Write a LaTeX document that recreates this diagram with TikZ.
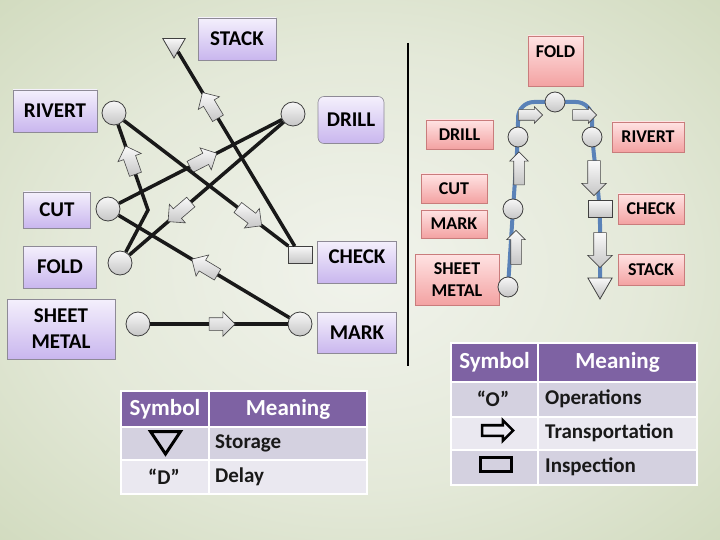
\documentclass[tikz,border=0pt]{standalone}
\usepackage{fontspec}
\setmainfont{Carlito}
\usetikzlibrary{shapes.geometric,shapes.arrows,shadows}
\definecolor{bgA}{HTML}{F1F3EC}
\definecolor{bgB}{HTML}{E4E9D9}
\definecolor{bgC}{HTML}{C7D3B0}
\definecolor{bgD}{HTML}{9DB47D}
\definecolor{purTop}{HTML}{F4F0FC}
\definecolor{purBot}{HTML}{C9B6EE}
\definecolor{purBorder}{HTML}{8E8A96}
\definecolor{pinkTop}{HTML}{FFE3E3}
\definecolor{pinkBot}{HTML}{F3A2A2}
\definecolor{pinkBorder}{HTML}{C97C7C}
\definecolor{hdrCol}{HTML}{7E62A3}
\definecolor{rowDark}{HTML}{D4D1E0}
\definecolor{rowLight}{HTML}{EAE8F0}
\definecolor{blueLine}{HTML}{5A82B8}
\pgfdeclareradialshading{bgshade}{\pgfpoint{0bp}{0bp}}{color(0bp)=(bgA); color(20bp)=(bgB); color(45bp)=(bgC); color(71bp)=(bgD)}
\pgfdeclarelayer{bglayer}
\pgfdeclarelayer{connlayer}
\pgfsetlayers{bglayer,connlayer,main}
\begin{document}
\begin{tikzpicture}[x=1pt,y=-1pt,
  lbl/.style={draw=purBorder, line width=0.6pt, top color=purTop, bottom color=purBot,
    font=\bfseries\fontsize{21}{26}\selectfont, align=center, inner sep=0pt},
  plbl/.style={draw=pinkBorder, line width=0.6pt, top color=pinkTop, bottom color=pinkBot,
    font=\bfseries\fontsize{18}{22}\selectfont, align=center, inner sep=0pt,
    drop shadow={shadow xshift=0.6pt, shadow yshift=-1.2pt, fill=black!55, opacity=0.8}},
  opc/.style={circle, draw=black!75, line width=0.8pt, top color=gray!6, bottom color=gray!45,
    minimum size=24pt, inner sep=0pt},
  ropc/.style={opc, minimum size=20pt},
  insp/.style={rectangle, draw=black!75, line width=0.8pt, top color=gray!6, bottom color=gray!45,
    minimum width=24pt, minimum height=17pt, inner sep=0pt},
  stor/.style={regular polygon, regular polygon sides=3, shape border rotate=180, draw=black!75,
    line width=0.8pt, top color=gray!5, bottom color=gray!50, minimum size=26pt, inner sep=0pt},
  barrow/.style={single arrow, draw=gray!55!black, line width=0.6pt, top color=gray!4, bottom color=gray!45,
    inner sep=0pt, inner ysep=6pt, minimum height=30pt, minimum width=24pt,
    single arrow head extend=6pt, single arrow tip angle=90, single arrow head indent=0pt},
  onl/.style={barrow, sloped, allow upside down},
  link/.style={line width=3.5pt, black!90},
  cell/.style={draw=white, line width=2pt, anchor=north west, inner sep=0pt},
  hdr/.style={cell, fill=hdrCol, text=white, font=\bfseries\fontsize{23}{26}\selectfont},
  body/.style={font=\bfseries\fontsize{21}{24}\selectfont, text=black!90, inner sep=0pt}
]
\begin{pgfonlayer}{bglayer}
  \path[shading=bgshade] (0,0) rectangle (720,540);
\end{pgfonlayer}
\useasboundingbox (0,0) rectangle (720,540);

% ---------- left diagram ----------
\node[lbl, minimum width=78pt, minimum height=42pt] (lStack) at (237,39) {STACK};
\node[lbl, minimum width=84pt, minimum height=42pt] (lRiv) at (55,111) {RIVERT};
\node[lbl, rounded corners=6pt, minimum width=66pt, minimum height=47pt] (lDrill) at (351,120) {DRILL};
\node[lbl, minimum width=67pt, minimum height=36pt] (lCut) at (57,210) {CUT};
\node[lbl, minimum width=73pt, minimum height=42pt] (lFold) at (60,267) {FOLD};
\node[lbl, minimum width=108pt, minimum height=60pt] (lSm) at (61,329) {SHEET\\METAL};
\node[lbl, minimum width=79pt, minimum height=42pt, text depth=10pt] (lCheck) at (357,262) {CHECK};
\node[lbl, minimum width=79pt, minimum height=41pt] (lMark) at (357,333) {MARK};

\node[stor] (lStackT) at (174,45) {};
\node[opc] (lRivC) at (114,113) {};
\node[opc] (lDrillC) at (293,114) {};
\node[opc] (lCutC) at (108,209) {};
\node[opc] (lFoldC) at (120,263) {};
\node[opc] (lSmC) at (138,324) {};
\node[opc] (lMarkC) at (300,324) {};
\node[insp] (lCheckS) at (300,255) {};
\coordinate (kink) at (148,210);

\draw[link] (lSmC) -- node[onl, pos=0.5, minimum height=26pt] (la1) {} (lMarkC);
\draw[link] (lMarkC) -- node[onl, pos=0.48] (la2) {} (lCutC);
\draw[link] (lCutC) -- node[onl, pos=0.5] (la3) {} (lDrillC);
\draw[link] (lDrillC) -- node[onl, pos=0.66] (la4) {} (lFoldC);
\draw[link] (lFoldC) -- (kink) -- node[onl, pos=0.55] (la5) {} (lRivC);
\draw[link] (lRivC) -- node[onl, pos=0.75] (la6) {} (lCheckS);
\draw[link] (lCheckS) -- node[onl, pos=0.71] (la7) {} (lStackT);

% ---------- divider ----------
\coordinate (divTop) at (408,43);
\coordinate (divBot) at (408,366);
\draw[line width=2.8pt, black] (divTop) -- (divBot);

% ---------- right diagram ----------
\node[plbl, minimum width=55pt, minimum height=50pt,
  label={[font=\bfseries\fontsize{18}{22}\selectfont, anchor=north, label distance=-6pt]north:FOLD}] (rFold) at (555.5,61) {};
\node[plbl, minimum width=67pt, minimum height=29pt] (rDrill) at (459.5,134.5) {DRILL};
\node[plbl, minimum width=66pt, minimum height=29pt] (rCut) at (454,188.5) {CUT};
\node[plbl, minimum width=66pt, minimum height=28pt] (rMark) at (454,224) {MARK};
\node[plbl, minimum width=84pt, minimum height=51pt] (rSm) at (457,279.5) {SHEET\\METAL};
\node[plbl, minimum width=72pt, minimum height=30pt] (rRiv) at (648,137) {RIVERT};
\node[plbl, minimum width=66pt, minimum height=30pt] (rCheck) at (651,209) {CHECK};
\node[plbl, minimum width=66pt, minimum height=31pt] (rStack) at (651,269.5) {STACK};

\node[ropc] (rSmC) at (508,287) {};
\node[ropc] (rCutC) at (513,209) {};
\node[ropc] (rDrillC) at (518,137) {};
\node[ropc] (rFoldC) at (555,102) {};
\node[ropc] (rRivC) at (592,137) {};
\node[insp] (rCheckS) at (600,209) {};
\node[stor, minimum size=28pt] (rStackT) at (600,285) {};
\coordinate (bendL) at (518,102);
\coordinate (bendR) at (592,102);

\begin{pgfonlayer}{connlayer}
\draw[line width=4pt, blueLine, rounded corners=16pt]
  (rSmC.center) -- (rCutC.center) -- (rDrillC.center) -- (bendL) -- (rFoldC.center)
  -- (bendR) -- (rRivC.center) -- (rCheckS.center) -- (rStackT.center);
\end{pgfonlayer}

\node[barrow, rotate=90, minimum height=34pt, inner ysep=5pt, single arrow head extend=4pt, minimum width=18pt] (ru1) at (516,250) {};
\node[barrow, rotate=90, minimum height=33pt, inner ysep=5pt, single arrow head extend=4pt, minimum width=18pt] (ru2) at (519,171) {};
\node[barrow, minimum height=24pt, inner ysep=5pt, single arrow head extend=3pt, minimum width=16pt] (rr1) at (528,115) {};
\node[barrow, minimum height=24pt, inner ysep=5pt, single arrow head extend=3pt, minimum width=16pt] (rr2) at (582,115) {};
\node[barrow, rotate=-90, minimum height=35pt, inner ysep=6pt, single arrow head extend=6pt, minimum width=24pt] (rd1) at (594,175) {};
\node[barrow, rotate=-90, minimum height=35pt, inner ysep=6pt, single arrow head extend=6pt, minimum width=24pt] (rd2) at (600,247) {};

% ---------- left table ----------
\node[hdr, minimum width=88pt, minimum height=36pt] (t1h1) at (120,390) {Symbol};
\node[hdr, minimum width=158pt, minimum height=36pt] (t1h2) at (208,390) {Meaning};
\node[cell, fill=rowDark, minimum width=88pt, minimum height=33pt] (t1a1) at (120,426) {};
\node[cell, fill=rowDark, minimum width=158pt, minimum height=33pt] (t1a2) at (208,426) {};
\node[cell, fill=rowLight, minimum width=88pt, minimum height=34pt] (t1b1) at (120,459) {};
\node[cell, fill=rowLight, minimum width=158pt, minimum height=34pt] (t1b2) at (208,459) {};
\draw[line width=3pt, line join=miter, black] (150.5,431.5) -- (180.5,431.5) -- (165.5,454) -- cycle;
\node[body, anchor=west] (t1a2t) at (215,443) {Storage};
\node[body] (t1b1t) at (164,477) {“D”};
\node[body, anchor=west] (t1b2t) at (215,477) {Delay};

% ---------- right table ----------
\node[hdr, minimum width=87pt, minimum height=39pt] (t2h1) at (450,342) {Symbol};
\node[hdr, minimum width=159pt, minimum height=39pt] (t2h2) at (537,342) {Meaning};
\node[cell, fill=rowDark, minimum width=87pt, minimum height=35pt] (t2a1) at (450,381) {};
\node[cell, fill=rowDark, minimum width=159pt, minimum height=35pt] (t2a2) at (537,381) {};
\node[cell, fill=rowLight, minimum width=87pt, minimum height=33pt] (t2b1) at (450,416) {};
\node[cell, fill=rowLight, minimum width=159pt, minimum height=33pt] (t2b2) at (537,416) {};
\node[cell, fill=rowDark, minimum width=87pt, minimum height=35pt] (t2c1) at (450,449) {};
\node[cell, fill=rowDark, minimum width=159pt, minimum height=35pt] (t2c2) at (537,449) {};
\node[body] (t2a1t) at (493,399) {“O”};
\node[body, anchor=west] (t2a2t) at (545,399) {Operations};
\node[single arrow, draw=black, line width=2.6pt, inner sep=0pt, inner ysep=4pt, minimum height=31pt,
  minimum width=18pt, single arrow head extend=5pt, single arrow tip angle=90, single arrow head indent=0pt] (t2b1s) at (495,430.5) {};
\node[body, anchor=west] (t2b2t) at (545,433) {Transportation};
\node[draw=black, line width=2.6pt, minimum width=31.5pt, minimum height=14.5pt, inner sep=0pt] (t2c1s) at (496,464.5) {};
\node[body, anchor=west] (t2c2t) at (545,467) {Inspection};
\end{tikzpicture}
\end{document}
